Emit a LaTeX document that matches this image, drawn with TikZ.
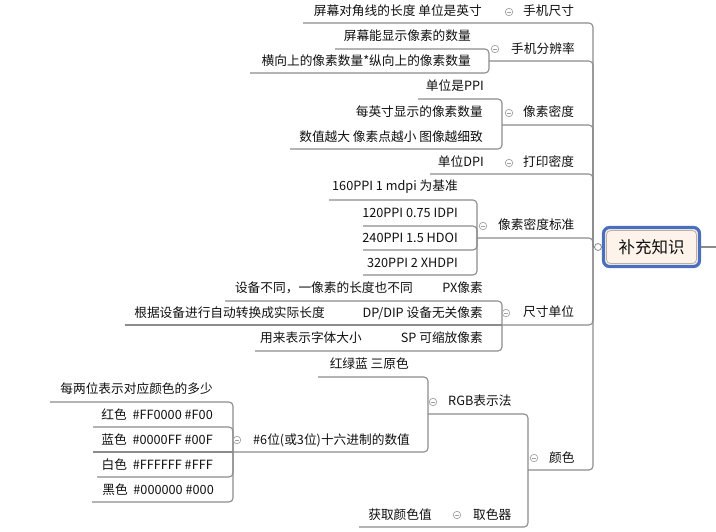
\documentclass[tikz,border=0pt]{standalone}
\usepackage{fontspec}
\setmainfont{Noto Sans CJK SC}
\definecolor{linec}{HTML}{8C8C8C}
\definecolor{txtc}{HTML}{101010}
\definecolor{iconc}{HTML}{A0A0A0}
\definecolor{blueb}{HTML}{4A6FBF}
\definecolor{fillc}{HTML}{FDF3EB}
\definecolor{innerb}{HTML}{BCB0A6}
\begin{document}
\begin{tikzpicture}[x=1pt,y=-1pt,
  conn/.style={draw=linec, line width=1.1pt, rounded corners=4pt},
  lbl/.style={inner sep=0pt, text=txtc, font=\fontsize{12.7}{14}\selectfont},
  tog/.style={circle, draw=iconc, fill=white, line width=0.7pt, inner sep=0pt, minimum size=7.5pt,
    path picture={\draw[iconc, line width=0.8pt] ([xshift=-2pt]path picture bounding box.center) -- ([xshift=2pt]path picture bounding box.center);}}]
\useasboundingbox (0,0) rectangle (716,531);

% ---------- central topic ----------
\node[draw=blueb, line width=3.2pt, rounded corners=6pt, fill=fillc, minimum width=96pt, minimum height=39pt, inner sep=0pt] (root) at (651.5,247) {};
\node[draw=innerb, line width=0.8pt, rounded corners=4pt, minimum width=90pt, minimum height=33pt, inner sep=0pt] (rootin) at (root.center) {};
\node[lbl, font=\fontsize{16.5}{18}\selectfont] (roottxt) at (root.center) {补充知识};
\coordinate (trunk) at (593,247);
\coordinate (rightend) at (716,247);
\draw[conn] (trunk) -- (root.west);
\draw[conn] (root.east) -- (rightend);
\node[circle, draw=linec, fill=white, line width=0.8pt, inner sep=0pt, minimum size=7pt] (rootknob) at (598,247) {};

% ---------- main branches ----------
\coordinate (b1) at (303,23);
\coordinate (b2) at (489,61);
\coordinate (b3) at (502,125);
\coordinate (b4) at (430,174);
\coordinate (b5) at (477,238);
\coordinate (b6) at (502,325);
\coordinate (b7) at (528,470);
\foreach \c in {b1,b2,b3,b4,b5,b6,b7}{
  \draw[conn] (trunk) |- (\c);
}

% ---------- 手机分辨率 ----------
\draw[conn] (b2) |- (335,49);
\draw[conn] (b2) |- (250,73);
% ---------- 像素密度 ----------
\draw[conn] (b3) |- (418,99);
\draw[conn] (b3) |- (290,149);
% ---------- 像素密度标准 ----------
\draw[conn] (b5) |- (329,200);
\draw[conn] (b5) |- (363,226);
\draw[conn] (b5) |- (363,250);
\draw[conn] (b5) |- (363,275);
% ---------- 尺寸单位 ----------
\draw[conn] (b6) |- (225,301);
\draw[conn] (b6) -- (125,325);
\draw[conn] (b6) |- (255,351);
% ---------- 颜色 ----------
\coordinate (c1) at (428,414);
\draw[conn] (b7) |- (c1);
\draw[conn] (b7) |- (359,527);
\coordinate (c2) at (233,452);
\draw[conn] (c1) |- (318,377);
\draw[conn] (c1) |- (c2);
\draw[conn] (c2) |- (50,402);
\draw[conn] (c2) |- (93,427);
\draw[conn] (c2) -- (93,452);
\draw[conn] (c2) |- (97,477);
\draw[conn] (c2) |- (92,502);

% ---------- texts: main topics ----------
\node[lbl, anchor=west] (t1) at (523,11) {手机尺寸};
\node[lbl, anchor=west] (t2) at (511,49) {手机分辨率};
\node[lbl, anchor=west] (t3) at (523,112) {像素密度};
\node[lbl, anchor=west] (t4) at (523,162) {打印密度};
\node[lbl, anchor=west] (t5) at (498,225) {像素密度标准};
\node[lbl, anchor=west] (t6) at (523,312) {尺寸单位};
\node[lbl, anchor=west] (t7) at (549,458) {颜色};

% ---------- texts: children ----------
\node[lbl, anchor=east] (s11) at (482,11) {屏幕对角线的长度 单位是英寸};
\node[lbl, anchor=east] (s21) at (471,36) {屏幕能显示像素的数量};
\node[lbl, anchor=east] (s22) at (471,61) {横向上的像素数量*纵向上的像素数量};
\node[lbl, anchor=east] (s31) at (484,86) {单位是PPI};
\node[lbl, anchor=east] (s32) at (483,112) {每英寸显示的像素数量};
\node[lbl, anchor=east] (s33) at (483,137) {数值越大 像素点越小 图像越细致};
\node[lbl, anchor=east] (s41) at (484,162) {单位DPI};
\node[lbl, anchor=east] (s51) at (458,187) {160PPI 1 mdpi 为基准};
\node[lbl, anchor=east] (s52) at (458,213) {120PPI 0.75 IDPI};
\node[lbl, anchor=east] (s53) at (458,238) {240PPI 1.5 HDOI};
\node[lbl, anchor=east] (s54) at (458,263) {320PPI 2 XHDPI};
\node[lbl, anchor=east] (s61) at (483,288) {PX像素};
\node[lbl, anchor=east] (s61a) at (413,288) {设备不同，一像素的长度也不同};
\node[lbl, anchor=east] (s62) at (483,313) {DP/DIP 设备无关像素};
\node[lbl, anchor=east] (s62a) at (325,313) {根据设备进行自动转换成实际长度};
\node[lbl, anchor=east] (s63) at (483,338) {SP 可缩放像素};
\node[lbl, anchor=east] (s63a) at (362,338) {用来表示字体大小};
\node[lbl, anchor=west] (s71) at (448,401) {RGB表示法};
\node[lbl, anchor=west] (s72) at (473,515) {取色器};
\node[lbl, anchor=east] (s72a) at (432,515) {获取颜色值};
\node[lbl, anchor=east] (s711) at (409,364) {红绿蓝 三原色};
\node[lbl, anchor=west] (s712) at (253,440) {\#6位(或3位)十六进制的数值};
\node[lbl, anchor=east] (h1) at (213,389) {每两位表示对应颜色的多少};
\node[lbl, anchor=east] (h2) at (213,415) {红色~~\#FF0000 \#F00};
\node[lbl, anchor=east] (h3) at (213,440) {蓝色~~\#0000FF \#00F};
\node[lbl, anchor=east] (h4) at (213,465) {白色~~\#FFFFFF \#FFF};
\node[lbl, anchor=east] (h5) at (214,490) {黑色~~\#000000 \#000};

% ---------- collapse icons ----------
\node[tog] (g1) at (509,12) {};
\node[tog] (g2) at (495,49) {};
\node[tog] (g3) at (509,113) {};
\node[tog] (g4) at (509,163) {};
\node[tog] (g5) at (483,226) {};
\node[tog] (g6) at (506,313) {};
\node[tog] (g7) at (534,458) {};
\node[tog] (g71) at (433,402) {};
\node[tog] (g72) at (457,515) {};
\node[tog] (g711) at (237,440) {};
\end{tikzpicture}
\end{document}
